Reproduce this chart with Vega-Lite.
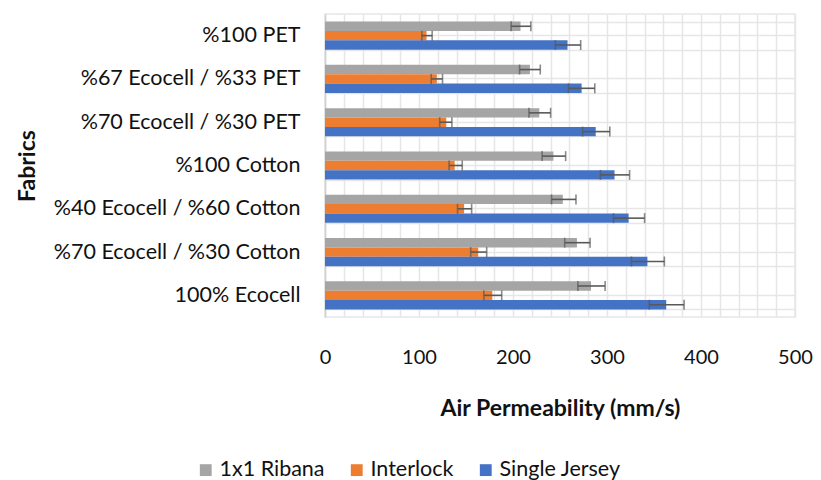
{
  "$schema": "https://vega.github.io/schema/vega-lite/v6.json",
  "width": 470,
  "height": 303,
  "autosize": {"type": "none"},
  "padding": {"left": 325, "top": 14, "right": 26, "bottom": 163},
  "background": "white",
  "config": {
    "font": "Lato",
    "view": {"stroke": "#e6e6e6", "strokeWidth": 1.5},
    "axis": {"labelFont": "Lato", "titleFont": "Lato", "labelColor": "#111111", "titleColor": "#111111"}
  },
  "data": {
    "values": [
      {"fabric": "%100 PET", "type": "1x1 Ribana", "value": 208, "lo": 198, "hi": 219},
      {"fabric": "%100 PET", "type": "Interlock", "value": 108, "lo": 103, "hi": 114},
      {"fabric": "%100 PET", "type": "Single Jersey", "value": 258, "lo": 245, "hi": 272},
      {"fabric": "%67 Ecocell / %33 PET", "type": "1x1 Ribana", "value": 218, "lo": 207, "hi": 229},
      {"fabric": "%67 Ecocell / %33 PET", "type": "Interlock", "value": 119, "lo": 113, "hi": 125},
      {"fabric": "%67 Ecocell / %33 PET", "type": "Single Jersey", "value": 273, "lo": 259, "hi": 287},
      {"fabric": "%70 Ecocell / %30 PET", "type": "1x1 Ribana", "value": 228, "lo": 217, "hi": 240},
      {"fabric": "%70 Ecocell / %30 PET", "type": "Interlock", "value": 129, "lo": 122, "hi": 135},
      {"fabric": "%70 Ecocell / %30 PET", "type": "Single Jersey", "value": 288, "lo": 274, "hi": 303},
      {"fabric": "%100 Cotton", "type": "1x1 Ribana", "value": 243, "lo": 231, "hi": 256},
      {"fabric": "%100 Cotton", "type": "Interlock", "value": 138, "lo": 132, "hi": 146},
      {"fabric": "%100 Cotton", "type": "Single Jersey", "value": 308, "lo": 293, "hi": 324},
      {"fabric": "%40 Ecocell / %60 Cotton", "type": "1x1 Ribana", "value": 253, "lo": 241, "hi": 267},
      {"fabric": "%40 Ecocell / %60 Cotton", "type": "Interlock", "value": 148, "lo": 141, "hi": 156},
      {"fabric": "%40 Ecocell / %60 Cotton", "type": "Single Jersey", "value": 323, "lo": 307, "hi": 340},
      {"fabric": "%70 Ecocell / %30 Cotton", "type": "1x1 Ribana", "value": 268, "lo": 255, "hi": 282},
      {"fabric": "%70 Ecocell / %30 Cotton", "type": "Interlock", "value": 163, "lo": 155, "hi": 172},
      {"fabric": "%70 Ecocell / %30 Cotton", "type": "Single Jersey", "value": 343, "lo": 326, "hi": 361},
      {"fabric": "100% Ecocell", "type": "1x1 Ribana", "value": 283, "lo": 269, "hi": 298},
      {"fabric": "100% Ecocell", "type": "Interlock", "value": 178, "lo": 169, "hi": 188},
      {"fabric": "100% Ecocell", "type": "Single Jersey", "value": 363, "lo": 345, "hi": 382}
    ]
  },
  "resolve": {"axis": {"y": "independent"}},
  "layer": [
    {
      "mark": {"type": "bar"},
      "encoding": {
        "y": {
          "field": "fabric", "type": "nominal", "sort": null,
          "scale": {"paddingInner": 0.35, "paddingOuter": 0.175},
          "axis": {
            "title": "Fabrics", "titleFontSize": 23, "titleFontWeight": "bold",
            "titleAngle": -90, "titleX": -298, "titleY": 151.5, "titleAlign": "center", "titleBaseline": "middle",
            "labelFontSize": 21.5, "labelPadding": 25, "labelLimit": 320, "ticks": false,
            "domain": true, "domainColor": "#d0d0d0", "domainWidth": 1.5,
            "grid": true, "tickBand": "extent", "gridColor": "#e6e6e6", "gridWidth": 1.5
          }
        },
        "yOffset": {"field": "type", "type": "nominal", "sort": ["1x1 Ribana", "Interlock", "Single Jersey"], "scale": {"paddingInner": 0, "paddingOuter": 0}},
        "x": {
          "field": "value", "type": "quantitative",
          "scale": {"domain": [0, 500], "nice": false},
          "axis": {
            "title": "Air Permeability (mm/s)", "titleFontSize": 23, "titleFontWeight": "bold", "titlePadding": 30,
            "values": [0, 20, 40, 60, 80, 100, 120, 140, 160, 180, 200, 220, 240, 260, 280, 300, 320, 340, 360, 380, 400, 420, 440, 460, 480, 500],
            "tickCount": 40,
            "labelExpr": "datum.value % 100 === 0 ? datum.label : ''",
            "labelOverlap": false, "labelFlush": false,
            "labelFontSize": 20, "labelPadding": 30, "ticks": false, "domain": false,
            "grid": true, "gridColor": "#e6e6e6", "gridWidth": 1.5
          }
        },
        "color": {
          "field": "type", "type": "nominal",
          "scale": {"domain": ["1x1 Ribana", "Interlock", "Single Jersey"], "range": ["#a5a5a5", "#ed7d31", "#4472c4"]},
          "legend": {
            "title": null, "orient": "none", "direction": "horizontal", "legendX": -130, "legendY": 445,
            "symbolType": "square", "symbolSize": 140, "symbolStrokeWidth": 0,
            "labelFontSize": 21.5, "labelFont": "Lato", "labelColor": "#111111", "labelOffset": 3, "columnPadding": 21, "padding": 0, "labelLimit": 300
          }
        }
      }
    },
    {
      "mark": {"type": "rule", "color": "#595959", "strokeWidth": 1.6},
      "encoding": {
        "y": {
          "field": "fabric", "type": "nominal", "sort": null,
          "axis": {"title": null, "labels": false, "ticks": false, "domain": false, "grid": true, "gridColor": "#e6e6e6", "gridWidth": 1.5}
        },
        "yOffset": {"field": "type", "type": "nominal", "sort": ["1x1 Ribana", "Interlock", "Single Jersey"]},
        "x": {"field": "lo", "type": "quantitative", "title": "Air Permeability (mm/s)"},
        "x2": {"field": "hi"}
      }
    },
    {
      "mark": {"type": "tick", "color": "#595959", "thickness": 1.6, "size": 10, "orient": "vertical"},
      "encoding": {
        "y": {"field": "fabric", "type": "nominal", "sort": null, "axis": null},
        "yOffset": {"field": "type", "type": "nominal", "sort": ["1x1 Ribana", "Interlock", "Single Jersey"]},
        "x": {"field": "lo", "type": "quantitative", "title": "Air Permeability (mm/s)"}
      }
    },
    {
      "mark": {"type": "tick", "color": "#595959", "thickness": 1.6, "size": 10, "orient": "vertical"},
      "encoding": {
        "y": {"field": "fabric", "type": "nominal", "sort": null, "axis": null},
        "yOffset": {"field": "type", "type": "nominal", "sort": ["1x1 Ribana", "Interlock", "Single Jersey"]},
        "x": {"field": "hi", "type": "quantitative", "title": "Air Permeability (mm/s)"}
      }
    }
  ]
}
